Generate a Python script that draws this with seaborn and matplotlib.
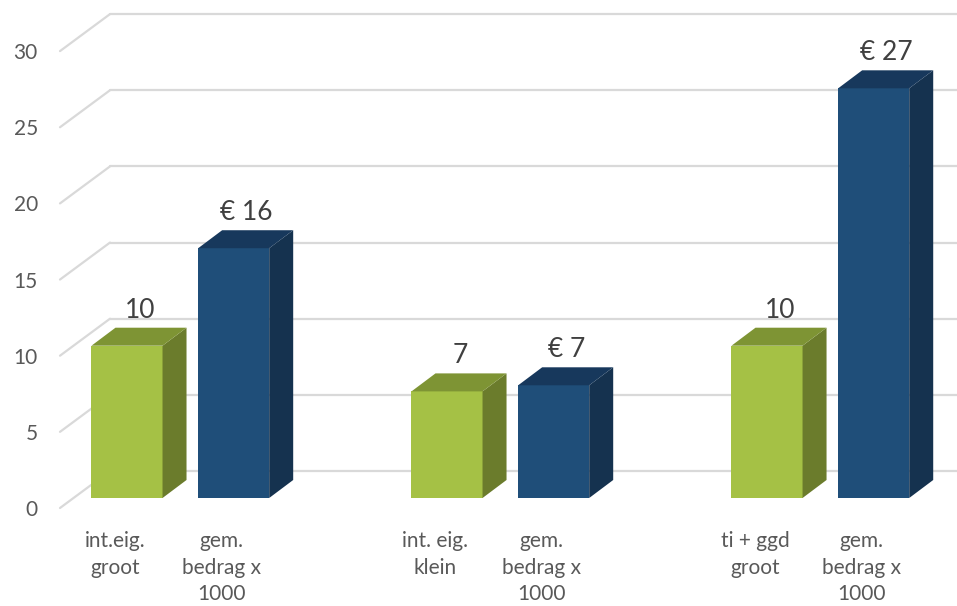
import numpy as np
import pandas as pd
import matplotlib
matplotlib.use("Agg")
import matplotlib.pyplot as plt
import matplotlib.transforms as mtransforms
from matplotlib.patches import Polygon
from matplotlib.lines import Line2D
import seaborn as sns

# ---- data -------------------------------------------------------------
categories = [
    "int.eig.\ngroot", "gem.\nbedrag x\n1000",
    "int. eig.\nklein", "gem.\nbedrag x\n1000",
    "ti + ggd\ngroot", "gem.\nbedrag x\n1000",
]
series = ["aantal", "bedrag", "aantal", "bedrag", "aantal", "bedrag"]
values = [10, 16.4, 7, 7.4, 10, 26.9]
groups = [0, 0, 1, 1, 2, 2]
y_ticks = [0, 5, 10, 15, 20, 25, 30]

label_fmt = {"aantal": "{:.0f}", "bedrag": "€ {:.0f}"}

front = {"aantal": "#A5C145", "bedrag": "#1F4E79"}
top = {"aantal": "#7E9434", "bedrag": "#17385C"}
side = {"aantal": "#6B7C2C", "bedrag": "#15324F"}

# ---- layout helpers ---------------------------------------------------
W, H, DPI = 957, 606, 100
sns.set_theme(style="white")
plt.rcParams["font.family"] = ["Lato", "DejaVu Sans"]

fig = plt.figure(figsize=(W / DPI, H / DPI), dpi=DPI)
fig.patch.set_facecolor("white")

ax_left_px, ax_bottom_px = 60, 108
ax = fig.add_axes([ax_left_px / W, ax_bottom_px / H,
                   1 - ax_left_px / W, 1 - ax_bottom_px / H])
ax.set_facecolor("none")

slot_px = 106.67      # horizontal distance between neighbouring bar slots
unit_px = 15.23       # pixels per value unit
first_px = 127        # centre of the first bar
x_lo = (ax_left_px - first_px) / slot_px
x_hi = (W - first_px) / slot_px
y_hi = (H - ax_bottom_px) / unit_px
ax.set_xlim(x_lo, x_hi)
ax.set_ylim(0, y_hi)

df = pd.DataFrame({
    "label": categories,
    "serie": series,
    "waarde": values,
    "pos": [g * 3 + i % 2 for i, g in enumerate(groups)],
})

# depth offsets in pixels (display coords, y up)
wall_dx, wall_dy = 37, 27     # back wall relative to bar front plane
floor_dx, floor_dy = -13, -10 # front edge of floor relative to bar front plane
bar_dx, bar_dy = 24, 18       # bar depth

grid_col = "#D9D9D9"
to_disp = ax.transData.transform
ident = mtransforms.IdentityTransform()

# back wall gridlines and floor/side diagonals (behind the bars)
for t in y_ticks:
    _, yd = to_disp((0, t))
    yb = yd + wall_dy
    yf = yd + floor_dy
    xb = ax_left_px + (wall_dx - floor_dx)
    ax.add_line(Line2D([xb, W], [yb, yb], transform=ident, color=grid_col,
                       lw=1.6, zorder=0.5, clip_on=False))
    ax.add_line(Line2D([ax_left_px, xb], [yf, yb], transform=ident, color=grid_col,
                       lw=1.6, zorder=0.5, clip_on=False))

sns.barplot(data=df, x="pos", y="waarde", hue="serie", palette=front,
            native_scale=True, dodge=False, width=0.666, legend=False,
            saturation=1, linewidth=0, ax=ax, zorder=2)
ax.set_xlim(x_lo, x_hi)
ax.set_ylim(0, y_hi)

# top and side faces of each bar, plus value labels
bars = sorted([p for p in ax.patches if isinstance(p, matplotlib.patches.Rectangle)],
              key=lambda p: p.get_x())
for bar, (_, row) in zip(bars, df.sort_values("pos").iterrows()):
    x0, x1 = bar.get_x(), bar.get_x() + bar.get_width()
    h = bar.get_height()
    (px0, py0), (px1, py1) = to_disp((x0, 0)), to_disp((x1, h))
    top_pts = [(px0, py1), (px1, py1), (px1 + bar_dx, py1 + bar_dy), (px0 + bar_dx, py1 + bar_dy)]
    side_pts = [(px1, py0), (px1 + bar_dx, py0 + bar_dy), (px1 + bar_dx, py1 + bar_dy), (px1, py1)]
    ax.add_patch(Polygon(side_pts, closed=True, transform=ident,
                         facecolor=side[row.serie], edgecolor="none", zorder=2, clip_on=False))
    ax.add_patch(Polygon(top_pts, closed=True, transform=ident,
                         facecolor=top[row.serie], edgecolor="none", zorder=2, clip_on=False))
    ax.annotate(label_fmt[row.serie].format(row.waarde),
                xy=((x0 + x1) / 2, h), xytext=(bar_dx / 2 + 1, bar_dy + 10),
                textcoords="offset pixels", ha="center", va="baseline",
                fontsize=19, color="#404040", annotation_clip=False)

# axes text
ax.set_yticks(y_ticks)
ax.set_yticklabels([str(t) for t in y_ticks])
ax.set_xticks(df["pos"])
ax.set_xticklabels(df["label"])
ax.tick_params(axis="y", length=0, pad=16, labelsize=15, labelcolor="#595959")
ax.tick_params(axis="x", length=0, pad=24, labelsize=15, labelcolor="#595959")
for lab in ax.get_yticklabels():
    lab.set_transform(lab.get_transform() + mtransforms.ScaledTranslation(0, floor_dy / DPI, fig.dpi_scale_trans))
for lab in ax.get_xticklabels():
    lab.set_transform(lab.get_transform() + mtransforms.ScaledTranslation(-12 / DPI, 0, fig.dpi_scale_trans))
    lab.set_multialignment("center")
    lab.set_linespacing(1.4)
ax.set_xlabel("")
ax.set_ylabel("")
sns.despine(ax=ax, left=True, bottom=True)
ax.grid(False)

fig.savefig("out.png", dpi=DPI, facecolor="white")
